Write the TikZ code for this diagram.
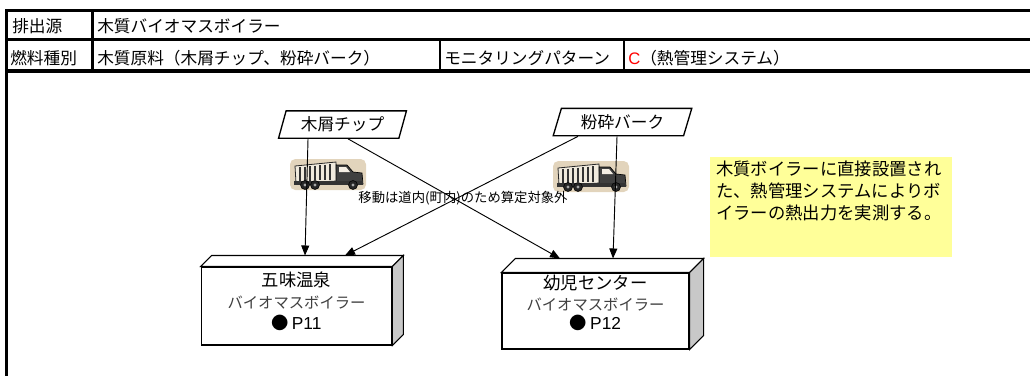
\documentclass[tikz,border=0pt]{standalone}
\usepackage{fontspec}
\setmainfont{Noto Sans CJK JP}
\newfontfamily\latinfont{Liberation Sans}
\usetikzlibrary{arrows.meta, positioning, shapes.geometric}

\definecolor{notebg}{HTML}{FFFF99}
\definecolor{sidegray}{HTML}{C8C8C8}
\definecolor{haze}{RGB}{226,212,188}

% small dump truck, drawn in pixel units (y grows downwards)
\tikzset{
  dumptruck/.pic={
    \fill[haze, rounded corners=4pt] (0,2) rectangle (76,33);
    \filldraw[fill=haze!50!white, draw=black!85, line width=.6pt]
      (5,9) -- (46,5) -- (47,24) -- (6,26) -- cycle;
    \foreach \s in {10,15,...,40}
      \draw[black!80, line width=.9pt] (\s,{11-0.1*\s}) -- (\s,{24.5-0.05*\s});
    \filldraw[fill=black!75, draw=black, line width=.5pt]
      (46,8) -- (57,8) -- (63,15) -- (72,16) -- (73,27) -- (46,27) -- cycle;
    \fill[haze!40!white] (49,10) -- (56,10) -- (60,15) -- (49,15) -- cycle;
    \fill[black!80] (4,24) rectangle (73,28);
    \foreach \w in {15,25,63} {
      \filldraw[fill=black!85, draw=black] (\w,28) circle (4.5);
      \fill[black!35] (\w,28) circle (1.6);
    }
  }
}

\begin{document}
\begin{tikzpicture}[x=0.75pt, y=-0.75pt,
    rule/.style={line width=2.6pt},
    thinrule/.style={line width=1.9pt},
    cell/.style={anchor=west, inner sep=0pt, font=\fontsize{12.5}{15}\selectfont},
    stock/.style={trapezium, trapezium left angle=70, trapezium right angle=110,
      trapezium stretches=true, draw, line width=1pt, minimum height=20.5pt,
      inner sep=0pt, font=\fontsize{12.5}{15}\selectfont},
    boiler/.style={draw, fill=white, line width=.8pt, minimum width=143pt, minimum height=58.5pt},
    boilertext/.style={align=center, inner sep=0pt, font=\fontsize{13}{16}\selectfont},
    feed/.style={-{Triangle[length=7.5pt, width=6pt]}, line width=.7pt},
    note/.style={fill=notebg, anchor=north west, inner xsep=4.5pt, inner ysep=3pt}
]
\useasboundingbox (0,0) rectangle (1030,376);

% header table
\draw[rule] (5,10.5) -- (1030,10.5);
\draw[thinrule] (6.5,39.5) -- (1030,39.5);
\draw[rule] (6.5,71) -- (1030,71);
\draw[rule] (6.5,9) -- (6.5,376);
\draw[thinrule] (92.7,10.5) -- (92.7,71);
\draw[thinrule] (440,39.5) -- (440,71);
\draw[thinrule] (624,39.5) -- (624,71);

\node[cell] (src-head) at (12,26.5) {排出源};
\node[cell] (src-val) at (97,26.5) {木質バイオマスボイラー};
\node[cell] (fuel-head) at (10,58) {燃料種別};
\node[cell] (fuel-val) at (97,58) {木質原料（木屑チップ、粉砕バーク）};
\node[cell] (mon-head) at (444,58) {モニタリングパターン};
\node[cell] (mon-val) at (628,58) {{\latinfont\color{red}C}（熱管理システム）};

% measuring note
\node[note] (note) at (710,157) {\parbox[t][69pt][t]{172pt}{\fontsize{13}{16.3}\selectfont
  木質ボイラーに直接設置され\\た、熱管理システムによりボ\\イラーの熱出力を実測する。}};

% fuel sources
\node[stock, minimum width=96pt] (chip) at (342.5,124.5) {木屑チップ};
\node[stock, minimum width=104pt] (bark) at (622.5,122) {粉砕バーク};

% transport
\pic at (290,157) {dumptruck};
\pic at (553,159) {dumptruck};
\node[inner sep=0pt, font=\fontsize{10}{12}\selectfont] (haul) at (463,198) {移動は道内(町内)のため算定対象外};

% boilers as boxes
\node[boiler] (gomi) at (296.5,306) {};
\node[boiler, minimum width=140.25pt, minimum height=57pt] (kids) at (595.5,311) {};
\foreach \b/\d in {gomi/11, kids/14} {
  \filldraw[fill=white, line width=.8pt] (\b.north west) -- ++(\d,-\d)
    -- ([shift={(\d,-\d)}]\b.north east) -- (\b.north east) -- cycle;
  \filldraw[fill=sidegray, line width=.8pt] (\b.north east) -- ++(\d,-\d)
    -- ([shift={(\d,-\d)}]\b.south east) -- (\b.south east) -- cycle;
}
\node[boilertext] (gomi-label) at ([yshift=3.4pt]gomi.center)
  {五味温泉\\
   {\fontsize{11.5}{16}\selectfont\color{black!75}バイオマスボイラー}\\
   ●\,{\latinfont P11}};
\node[boilertext] (kids-label) at ([yshift=6pt]kids.center)
  {幼児センター\\
   {\fontsize{11.5}{16}\selectfont\color{black!75}バイオマスボイラー}\\[-2pt]
   ●\,{\latinfont P12}};

% deliveries
\draw[feed] ([shift={(-34.5,0)}]chip.south) -- ([shift={(8.5,-11)}]gomi.north);
\draw[feed] ([shift={(5.5,0)}]chip.south) -- ([shift={(-35.5,-14)}]kids.north);
\draw[feed] ([shift={(-44.5,0)}]bark.south) -- ([shift={(48.5,-11)}]gomi.north);
\draw[feed] ([shift={(-5.5,0)}]bark.south) -- ([shift={(17.5,-14)}]kids.north);

\end{tikzpicture}
\end{document}
